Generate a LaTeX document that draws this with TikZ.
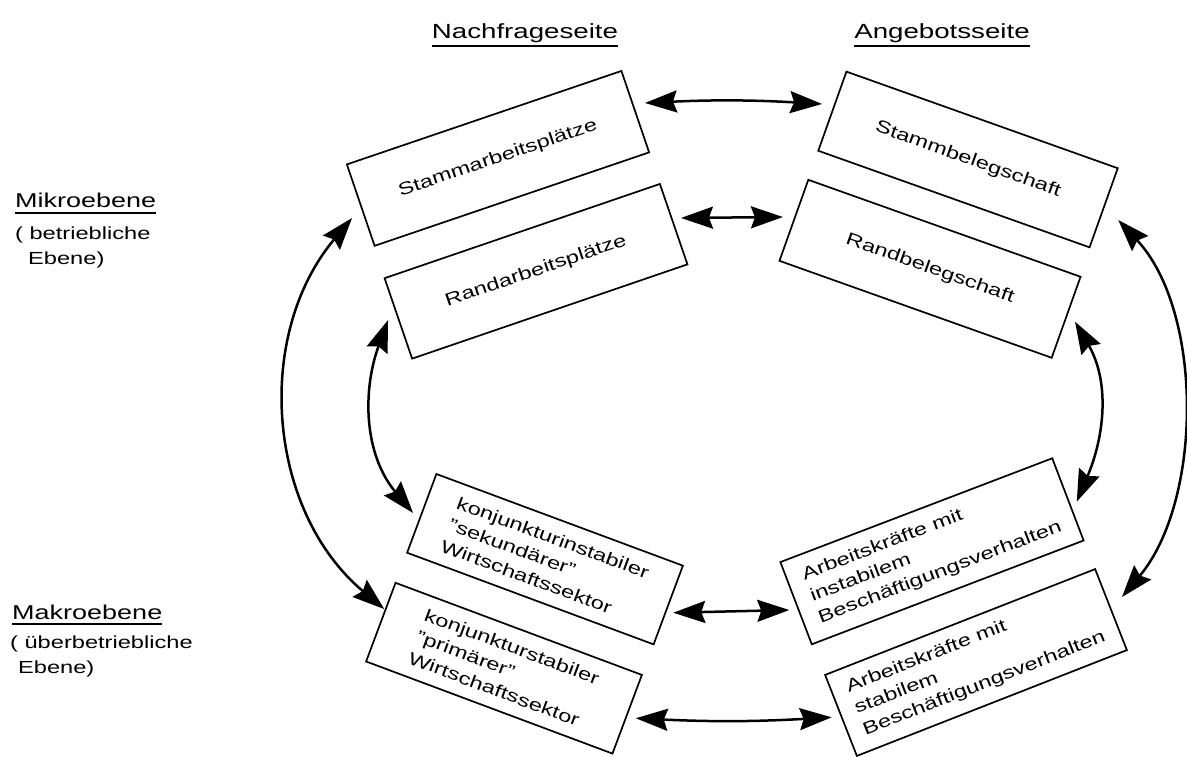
\documentclass[tikz,border=0pt]{standalone}
\usepackage{fontspec}
\setmainfont{Liberation Sans}[FakeStretch=1.35]
\usetikzlibrary{arrows.meta,calc}
\tikzset{
  arr/.style={{Stealth[length=32pt,width=22pt,inset=4pt]}-{Stealth[length=32pt,width=22pt,inset=4pt]}, line width=2.5pt},
  box/.style={draw, line width=1.7pt, inner sep=4pt, outer sep=0pt, align=left,
              font=\fontsize{17.5pt}{23pt}\selectfont},
  head/.style={inner sep=0pt, font=\fontsize{20.5pt}{24pt}\selectfont},
  lvl/.style={inner sep=0pt, anchor=base west, font=\fontsize{20pt}{24pt}\selectfont},
  sub/.style={inner sep=0pt, anchor=base west, font=\fontsize{17.5pt}{22pt}\selectfont},
  uline/.style={line width=1.3pt}
}
\begin{document}
\begin{tikzpicture}[x=1pt,y=1pt]
\fill[white] (0,0) rectangle (1187,756);
\useasboundingbox (0,0) rectangle (1187,756);

% headings
\node[head, anchor=base] (nach) at (525,717) {Nachfrageseite};
\node[head, anchor=base] (ang) at (942,717) {Angebotsseite};
\draw[uline] ([yshift=-7pt]nach.base west) -- ([yshift=-7pt]nach.base east);
\draw[uline] ([yshift=-7pt]ang.base west) -- ([yshift=-7pt]ang.base east);

% level labels
\node[lvl] (mikro) at (15,548) {Mikroebene};
\node[sub] (mikro1) at (15,516) {( betriebliche};
\node[sub] (mikro2) at (28,491) {Ebene)};
\draw[uline] ([yshift=-5pt]mikro.base west) -- ([yshift=-5pt]mikro.base east);

\node[lvl] (makro) at (12,136) {Makroebene};
\node[sub] (makro1) at (10,108) {( überbetriebliche};
\node[sub] (makro2) at (18,83) {Ebene)};
\draw[uline] ([yshift=-4pt]makro.base west) -- ([yshift=-4pt]makro.base east);

% boxes
\node[box, rotate=18.8, minimum width=290pt, minimum height=86pt] (b1) at (498,597.6) {Stammarbeitsplätze};
\node[box, rotate=18.9, minimum width=291pt, minimum height=85pt] (b2) at (536,484.7) {Randarbeitsplätze};
\node[box, rotate=-19.6, minimum width=288pt, minimum height=84pt] (b3) at (968,596.5) {Stammbelegschaft};
\node[box, rotate=-19.6, minimum width=289pt, minimum height=86pt] (b4) at (930,487.2) {Randbelegschaft};
\node[box, rotate=-20.4, minimum width=263pt, minimum height=84pt] (b5) at (545,196.8) {konjunkturinstabiler\\"sekundärer"\\Wirtschaftssektor};
\node[box, rotate=-20.5, minimum width=263pt, minimum height=84pt] (b6) at (504,87.8) {konjunkturstabiler\\"primärer"\\Wirtschaftssektor};
\node[box, rotate=20.9, minimum width=291pt, minimum height=88pt] (b7) at (932,204.7) {Arbeitskräfte mit\\instabilem\\Beschäftigungsverhalten};
\node[box, rotate=21.4, minimum width=290pt, minimum height=87pt] (b8) at (976,93.5) {Arbeitskräfte mit\\stabilem\\Beschäftigungsverhalten};

% horizontal arrows
\draw[arr] ([shift={(9.7,8.7)}]b1.east) to[bend left=3] ([shift={(-10.3,7.2)}]b3.west);
\draw[arr] ([shift={(7.3,6.2)}]b2.east) -- ([shift={(-10.9,3.3)}]b4.west);
\draw[arr] ([shift={(5,-7.7)}]b5.east) -- ([shift={(-6.8,-6.8)}]b7.west);
\draw[arr] ([shift={(8.6,-4)}]b6.east) to[bend right=3] ([shift={(-9.3,-1.9)}]b8.west);

% vertical arcs
\draw[arr] ([shift={(-8.7,-12.9)}]b1.west) to[out=230,in=140] ([shift={(3.4,13.1)}]b6.west);
\draw[arr] ([shift={(-10.3,-1.6)}]b2.west) to[out=250,in=130] ([shift={(-8.7,0.4)}]b5.west);
\draw[arr] ([shift={(14.6,-12.2)}]b3.east) to[out=-47,in=50,looseness=0.85] ([shift={(11,12.6)}]b8.east);
\draw[arr] ([shift={(8.9,-4.4)}]b4.east) to[out=-60,in=67] ([shift={(8.8,-2.3)}]b7.east);
\end{tikzpicture}
\end{document}
